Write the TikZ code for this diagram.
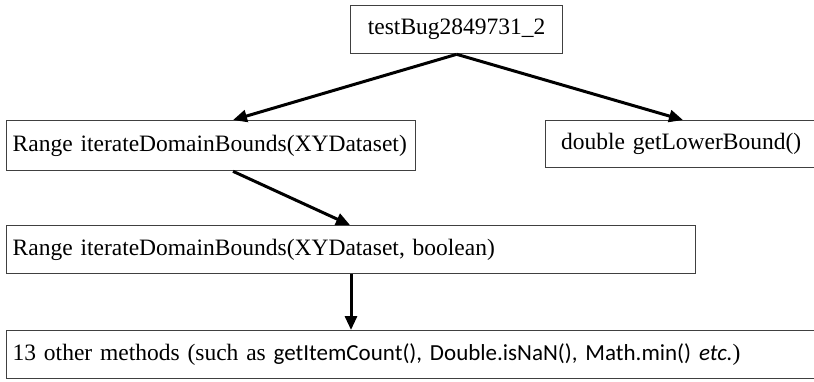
\documentclass[tikz,border=0pt]{standalone}
\usepackage{fontspec}
\setmainfont{Liberation Serif}
\newfontfamily\codefont{Carlito}
\usetikzlibrary{arrows.meta}
\begin{document}
\begin{tikzpicture}[x=1pt,y=1pt,
  box/.style={draw=black!75, line width=1.3pt, inner xsep=6pt, inner ysep=0pt,
    font=\fontsize{23.5}{26}\selectfont, anchor=north west, align=left},
  arr/.style={line width=3pt, -{Triangle[length=14pt,width=12pt]}}]
\useasboundingbox (0,0) rectangle (814,-381);
\node[box, text width=200pt, minimum height=48pt, align=center] (top) at (350,-5) {testBug2849731\_2};
\node[box, text width=397pt, minimum height=50pt] (r1) at (6,-120) {Range iterateDomainBounds(XYDataset)};
\node[box, text width=259pt, minimum height=47pt, align=center] (dbl) at (545,-120) {double getLowerBound()};
\node[box, text width=677pt, minimum height=48pt] (r2) at (6,-225) {Range iterateDomainBounds(XYDataset, boolean)};
\node[box, text width=798pt, minimum height=48pt] (m13) at (6,-330) {13 other methods (such as {\codefont\fontsize{23}{26}\selectfont getItemCount(), Double.isNaN(), Math.min() \textit{etc.}})};
\draw[arr] (top.south) -- ([xshift=227pt]r1.north west);
\draw[arr] (top.south) -- ([xshift=138pt]dbl.north west);
\draw[arr] ([xshift=227pt]r1.south west) -- ([xshift=344pt]r2.north west);
\draw[arr] ([xshift=345pt]r2.south west) -- ([xshift=345pt]m13.north west);
\end{tikzpicture}
\end{document}
